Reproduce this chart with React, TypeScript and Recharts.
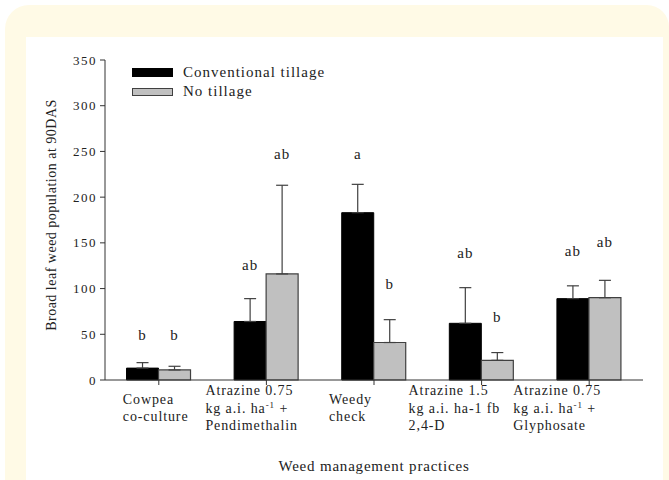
import React from 'react';
import { BarChart, Bar, XAxis, YAxis, ErrorBar, Legend, LabelList, Label } from 'recharts';

// Weed management practices (category axis), one entry per group of bars
const practices = ['cowpea', 'atz075pendi', 'weedy', 'atz15fb24d', 'atz075gly'];
// Tick label lines; "^" starts a superscript that runs to the next space
const practiceLines = [
  ['Cowpea', 'co-culture'],
  ['Atrazine 0.75', 'kg a.i. ha^-1 +', 'Pendimethalin'],
  ['Weedy', 'check'],
  ['Atrazine 1.5', 'kg a.i. ha-1 fb', '2,4-D'],
  ['Atrazine 0.75', 'kg a.i. ha^-1 +', 'Glyphosate'],
];

// Broad leaf weed population at 90 DAS
const conventional = [13, 64, 183, 62, 89];
const conventionalErr = [6, 25, 31, 39, 14];
const noTillage = [11, 116, 41, 21.5, 90];
const noTillageErr = [4, 97, 25, 8.5, 19];

// Mean separation letters and the height (in axis units) they sit at
const conventionalLetters = ['b', 'ab', 'a', 'ab', 'ab'];
const conventionalLetterAt = [49, 126, 247, 139, 141];
const noTillageLetters = ['b', 'ab', 'b', 'b', 'ab'];
const noTillageLetterAt = [49, 247, 105, 69, 151];

const yTicks = [0, 50, 100, 150, 200, 250, 300, 350];

const data = practices.map((p, i) => ({
  practice: p,
  ct: conventional[i],
  ctErr: [0, conventionalErr[i]],
  ctLetter: conventionalLetters[i],
  nt: noTillage[i],
  ntErr: [0, noTillageErr[i]],
  ntLetter: noTillageLetters[i],
}));

const SERIF = '"Liberation Serif", "Times New Roman", serif';
const INK = '#222';
const GREY = '#c0c0c0';
const EDGE = '#404040';

// left offset of each multi-line tick label block from its tick
const labelShift = [36, 61, 45, 73, 76];
const LINE_H = 17.5;

function renderLine(line: string) {
  const parts = line.split('^');
  if (parts.length === 1) return line;
  const rest = parts[1];
  const sp = rest.indexOf(' ');
  const sup = sp < 0 ? rest : rest.slice(0, sp);
  const after = sp < 0 ? '' : rest.slice(sp);
  return (
    <>
      {parts[0]}
      <tspan dy={-5} fontSize={9}>{sup}</tspan>
      <tspan dy={5}>{after}</tspan>
    </>
  );
}

const PracticeTick = (props: any) => {
  const { x, y, payload } = props;
  const idx = payload.index;
  const lines = practiceLines[idx];
  const first = y + 8 + (3 - lines.length) * (LINE_H / 2);
  return (
    <g>
      {lines.map((ln, k) => (
        <text
          key={k}
          x={x - labelShift[idx]}
          y={first + k * LINE_H}
          textAnchor="start"
          fontFamily={SERIF}
          fontSize={14}
          letterSpacing={0.9}
          fill={INK}
        >
          {renderLine(ln)}
        </text>
      ))}
    </g>
  );
};

const makeLetterLabel = (values: number[], letterAt: number[]) => (props: any) => {
  const { x, y, width, height, value, index } = props;
  const v = values[index];
  if (!v) return null;
  const base = y + height;
  const pxPerUnit = height / v;
  const cy = base - letterAt[index] * pxPerUnit;
  return (
    <text
      x={x + width / 2}
      y={cy + 5}
      textAnchor="middle"
      fontFamily={SERIF}
      fontSize={15}
      letterSpacing={1}
      fill={INK}
    >
      {value}
    </text>
  );
};

const LegendBox = () => (
  <div style={{ fontFamily: SERIF, fontSize: 15, letterSpacing: 1, color: INK, lineHeight: '19px', textAlign: 'left' }}>
    <div style={{ display: 'flex', alignItems: 'center' }}>
      <span style={{ display: 'inline-block', width: 41, height: 9, background: '#000', marginRight: 10 }} />
      Conventional tillage
    </div>
    <div style={{ display: 'flex', alignItems: 'center' }}>
      <span
        style={{
          display: 'inline-block',
          width: 39,
          height: 6,
          background: GREY,
          border: `1px solid ${EDGE}`,
          marginRight: 10,
        }}
      />
      No tillage
    </div>
  </div>
);

export default function App() {
  return (
    <div style={{ position: 'absolute', left: 0, top: 0, width: 669, height: 480, background: '#fff', overflow: 'hidden' }}>
      <div
        style={{
          position: 'absolute',
          left: 5,
          top: 5,
          width: 664,
          height: 475,
          background: '#fffae6',
          borderRadius: '24px 22px 0 0',
        }}
      />
      <div style={{ position: 'absolute', left: 26, top: 37, width: 637, height: 443, background: '#fff' }} />
      <div style={{ position: 'absolute', left: 0, top: 0 }}>
        <BarChart
          width={669}
          height={480}
          data={data}
          margin={{ top: 60, right: 26, bottom: 10, left: 45 }}
          barCategoryGap="20%"
          barGap={0}
        >
          <XAxis
            dataKey="practice"
            height={90}
            tick={<PracticeTick />}
            tickSize={5}
            tickMargin={2}
            interval={0}
            axisLine={{ stroke: '#333' }}
            tickLine={{ stroke: '#333' }}
          >
            <Label
              content={(p: any) => {
                const vb = p.viewBox;
                return (
                  <text
                    x={vb.x + vb.width / 2}
                    y={vb.y + 91}
                    textAnchor="middle"
                    fontFamily={SERIF}
                    fontSize={15}
                    letterSpacing={0.8}
                    fill={INK}
                  >
                    Weed management practices
                  </text>
                );
              }}
            />
          </XAxis>
          <YAxis
            width={60}
            domain={[0, 350]}
            ticks={yTicks}
            interval={0}
            tickSize={5}
            tickMargin={3}
            axisLine={{ stroke: '#333' }}
            tickLine={{ stroke: '#333' }}
            tick={{ fontFamily: SERIF, fontSize: 13, letterSpacing: 1.5, fill: INK }}
          >
            <Label
              content={(p: any) => {
                const vb = p.viewBox;
                const cx = vb.x + 6;
                const cy = vb.y + vb.height / 2 - 5;
                return (
                  <text
                    x={cx}
                    y={cy}
                    transform={`rotate(-90 ${cx} ${cy})`}
                    textAnchor="middle"
                    dominantBaseline="central"
                    fontFamily={SERIF}
                    fontSize={14}
                    letterSpacing={0.5}
                    fill={INK}
                  >
                    Broad leaf weed population at 90DAS
                  </text>
                );
              }}
            />
          </YAxis>
          <Legend
            layout="horizontal"
            verticalAlign="middle"
            align="center"
            content={<LegendBox />}
            wrapperStyle={{ position: 'absolute', left: 132, top: 63, width: 240 }}
          />
          <Bar dataKey="ct" name="Conventional tillage" fill="#000" stroke="#000" isAnimationActive={false}>
            <ErrorBar dataKey="ctErr" width={6} stroke={EDGE} strokeWidth={1.2} direction="y" />
            <LabelList dataKey="ctLetter" content={makeLetterLabel(conventional, conventionalLetterAt)} />
          </Bar>
          <Bar dataKey="nt" name="No tillage" fill={GREY} stroke={EDGE} strokeWidth={1.2} isAnimationActive={false}>
            <ErrorBar dataKey="ntErr" width={6} stroke={EDGE} strokeWidth={1.2} direction="y" />
            <LabelList dataKey="ntLetter" content={makeLetterLabel(noTillage, noTillageLetterAt)} />
          </Bar>
        </BarChart>
      </div>
    </div>
  );
}
